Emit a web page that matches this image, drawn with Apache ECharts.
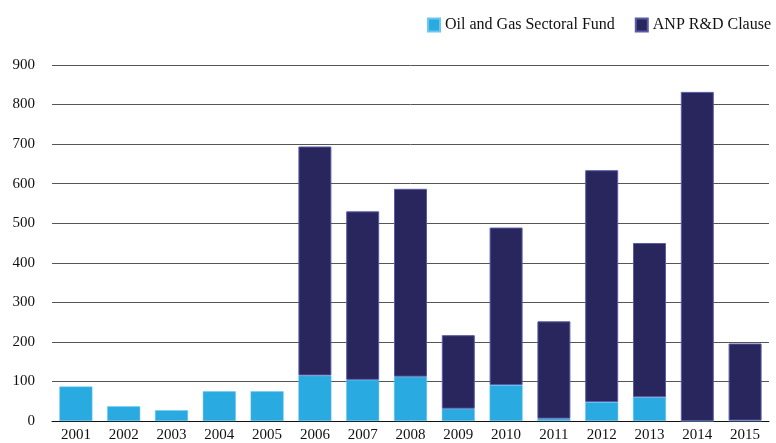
<!DOCTYPE html>
<html>
<head>
<meta charset="utf-8">
<script src="https://cdn.jsdelivr.net/npm/echarts@6/dist/echarts.min.js"></script>
<style>
  html, body { margin: 0; padding: 0; background: #fff; }
  #chart { width: 776px; height: 443px; }
</style>
</head>
<body>
<div id="chart"></div>
<script>
  // years on the x axis
  var years = ['2001', '2002', '2003', '2004', '2005', '2006', '2007', '2008',
               '2009', '2010', '2011', '2012', '2013', '2014', '2015'];
  // Oil and Gas Sectoral Fund (light blue, bottom)
  var sectoralFund = [87, 37, 27, 75, 75, 115, 104, 112, 31, 91, 6, 48, 60, 0, 1];
  // ANP R&D Clause (navy, stacked on top); '-' = no bar
  var anpClause = ['-', '-', '-', '-', '-', 579, 426, 475, 186, 398, 246, 586, 390, 832, 195];

  var serif = '"Liberation Serif", "DejaVu Serif", serif';

  var chart = echarts.init(document.getElementById('chart'));
  chart.setOption({
    animation: false,
    textStyle: { fontFamily: serif },
    legend: {
      top: 12,
      right: 0,
      icon: 'rect',
      itemWidth: 12,
      itemHeight: 13,
      itemGap: 20,
      textStyle: { fontFamily: serif, fontSize: 16, color: '#111' },
      data: ['Oil and Gas Sectoral Fund', 'ANP R&D Clause']
    },
    grid: { left: 52, right: 7, top: 65, bottom: 20 },
    xAxis: {
      type: 'category',
      data: years,
      axisLine: { lineStyle: { color: '#111', width: 1 } },
      axisTick: { show: false },
      axisLabel: { color: '#111', fontSize: 15, margin: 7 }
    },
    yAxis: {
      type: 'value',
      min: 0,
      max: 900,
      interval: 100,
      axisLine: { show: false },
      axisTick: { show: false },
      axisLabel: { color: '#111', fontSize: 15, margin: 17 },
      splitLine: { lineStyle: { color: '#555', width: 1 } }
    },
    series: [
      {
        name: 'Oil and Gas Sectoral Fund',
        type: 'bar',
        stack: 'total',
        barCategoryGap: '31%',
        data: sectoralFund,
        itemStyle: { color: '#29abe2', borderColor: '#6cc6ee', borderWidth: 0.5 }
      },
      {
        name: 'ANP R&D Clause',
        type: 'bar',
        stack: 'total',
        data: anpClause,
        itemStyle: { color: '#29265e', borderColor: '#5a5aa8', borderWidth: 1 }
      }
    ]
  });
</script>
</body>
</html>
